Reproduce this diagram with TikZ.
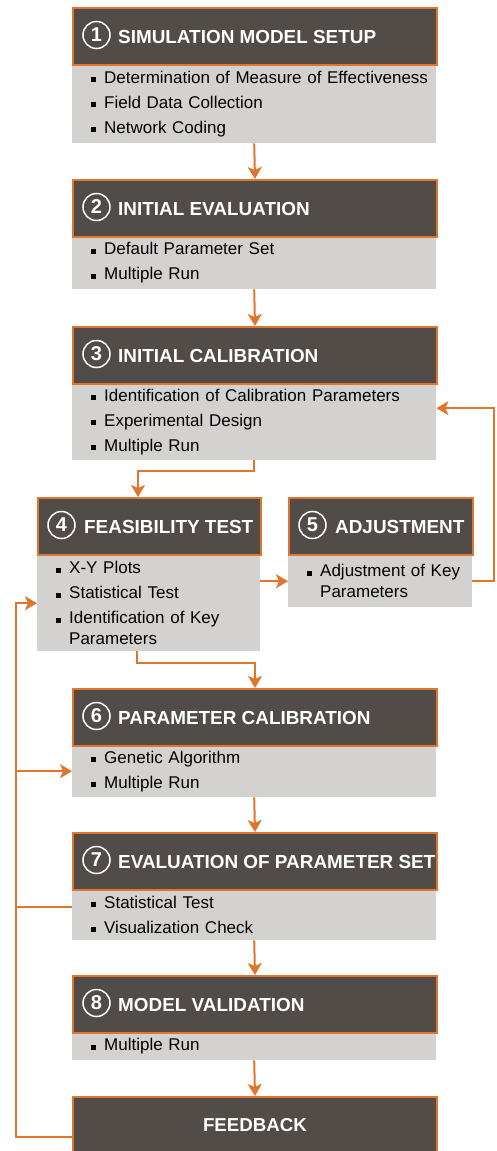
\documentclass[tikz,border=0pt]{standalone}
\usepackage{fontspec}
\setmainfont{Liberation Sans}
\usetikzlibrary{arrows.meta}
\definecolor{headgray}{RGB}{82,76,72}
\definecolor{linkorange}{RGB}{224,118,46}
\definecolor{bodygray}{RGB}{211,210,208}
\newcommand{\itm}{\hspace*{19pt}\makebox[13pt][l]{\raisebox{0.8pt}{\rule{5pt}{5pt}}}}
\newcommand{\cont}{\hspace*{32pt}}

\begin{document}
\begin{tikzpicture}[x=1pt,y=-1pt,
  head/.style={rectangle, anchor=north west, fill=headgray, draw=linkorange, line width=2pt, minimum height=57, inner sep=0, text=white, font=\fontsize{18.7}{22}\selectfont\bfseries},
  body/.style={rectangle, anchor=north west, fill=bodygray, inner sep=0, align=left, font=\fontsize{17}{21}\selectfont},
  title/.style={anchor=west, inner sep=0, text=white, font=\fontsize{18.9}{22}\selectfont\bfseries},
  num/.style={circle, draw=white, line width=1.5pt, minimum size=27, inner sep=0, text=white, font=\fontsize{20}{20}\selectfont\bfseries},
  flow/.style={draw=linkorange, line width=2pt, -{Stealth[length=12pt,width=14pt,inset=3pt]}},
  link/.style={draw=linkorange, line width=2pt}]

\useasboundingbox (0,0) rectangle (497,1151);

\node[body, minimum width=364, text width=364, minimum height=79] (b1) at (72,64) {\itm Determination of Measure of Effectiveness\\[4pt]\itm Field Data Collection\\[4pt]\itm Network Coding};
\node[head, minimum width=364] (h1) at (72,7) {};
\node[num] (n1) at ([xshift=24.5,yshift=1.5]h1.west) {1};
\node[title] (t1) at ([xshift=46]h1.west) {SIMULATION MODEL SETUP};

\node[body, minimum width=364, text width=364, minimum height=53] (b2) at (72,236) {\itm Default Parameter Set\\[4pt]\itm Multiple Run};
\node[head, minimum width=364] (h2) at (72,179) {};
\node[num] (n2) at ([xshift=24.5,yshift=1.5]h2.west) {2};
\node[title] (t2) at ([xshift=46]h2.west) {INITIAL EVALUATION};

\node[body, minimum width=364, text width=364, minimum height=77] (b3) at (72,383) {\itm Identification of Calibration Parameters\\[4pt]\itm Experimental Design\\[4pt]\itm Multiple Run};
\node[head, minimum width=364] (h3) at (72,326) {};
\node[num] (n3) at ([xshift=24.5,yshift=1.5]h3.west) {3};
\node[title] (t3) at ([xshift=46]h3.west) {INITIAL CALIBRATION};

\node[body, minimum width=223, text width=223, minimum height=96] (b4) at (37,555) {\itm X-Y Plots\\[4pt]\itm Statistical Test\\[4pt]\itm Identification of Key\\\cont Parameters};
\node[head, minimum width=223] (h4) at (37,497) {};
\node[num] (n4) at ([xshift=24.5,yshift=1.5]h4.west) {4};
\node[title] (t4) at ([xshift=47]h4.west) {FEASIBILITY TEST};

\node[body, minimum width=184, text width=184, minimum height=52] (b5) at (288,555) {\itm Adjustment of Key\\\cont Parameters};
\node[head, minimum width=184] (h5) at (288,497) {};
\node[num] (n5) at ([xshift=24.5,yshift=1.5]h5.west) {5};
\node[title] (t5) at ([xshift=47]h5.west) {ADJUSTMENT};

\node[body, minimum width=364, text width=364, minimum height=52] (b6) at (72,745) {\itm Genetic Algorithm\\[4pt]\itm Multiple Run};
\node[head, minimum width=364] (h6) at (72,688) {};
\node[num] (n6) at ([xshift=24.5,yshift=1.5]h6.west) {6};
\node[title] (t6) at ([xshift=46]h6.west) {PARAMETER CALIBRATION};

\node[body, minimum width=364, text width=364, minimum height=51] (b7) at (72,889) {\itm Statistical Test\\[4pt]\itm Visualization Check};
\node[head, minimum width=364] (h7) at (72,832) {};
\node[num] (n7) at ([xshift=24.5,yshift=1.5]h7.west) {7};
\node[title] (t7) at ([xshift=46]h7.west) {EVALUATION OF PARAMETER SET};

\node[body, minimum width=364, text width=364, minimum height=28] (b8) at (72,1032) {\itm Multiple Run};
\node[head, minimum width=364] (h8) at (72,975) {};
\node[num] (n8) at ([xshift=24.5,yshift=1.5]h8.west) {8};
\node[title] (t8) at ([xshift=46]h8.west) {MODEL VALIDATION};

\node[head, minimum width=364] (h9) at (72,1096) {FEEDBACK};
\coordinate (rail) at ([xshift=-56]h9.west);

\draw[flow] (b1.south) -- (h2.north);
\draw[flow] (b2.south) -- (h3.north);
\draw[flow] (b3.south) -- ++(0,11) -| ([xshift=-11.5]h4.north);
\draw[flow] (b4.east |- b5.west) -- (b5.west);
\draw[flow] (b5.east) -- ++(22,0) |- ([yshift=13.5]b3.east);
\draw[flow] ([xshift=-11.5]b4.south) -- ++(0,12) -| (h6.north);
\draw[flow] (b6.south) -- (h7.north);
\draw[flow] (b7.south) -- (h8.north);
\draw[flow] (b8.south) -- (h9.north);

\draw[flow] ([yshift=-11.5]h9.west) -- ++(-56,0) |- (b4.west);
\draw[flow] (rail |- b6.west) -- (b6.west);
\draw[link] ([yshift=7.5]b7.west) -- ++(-56,0);
\end{tikzpicture}
\end{document}
